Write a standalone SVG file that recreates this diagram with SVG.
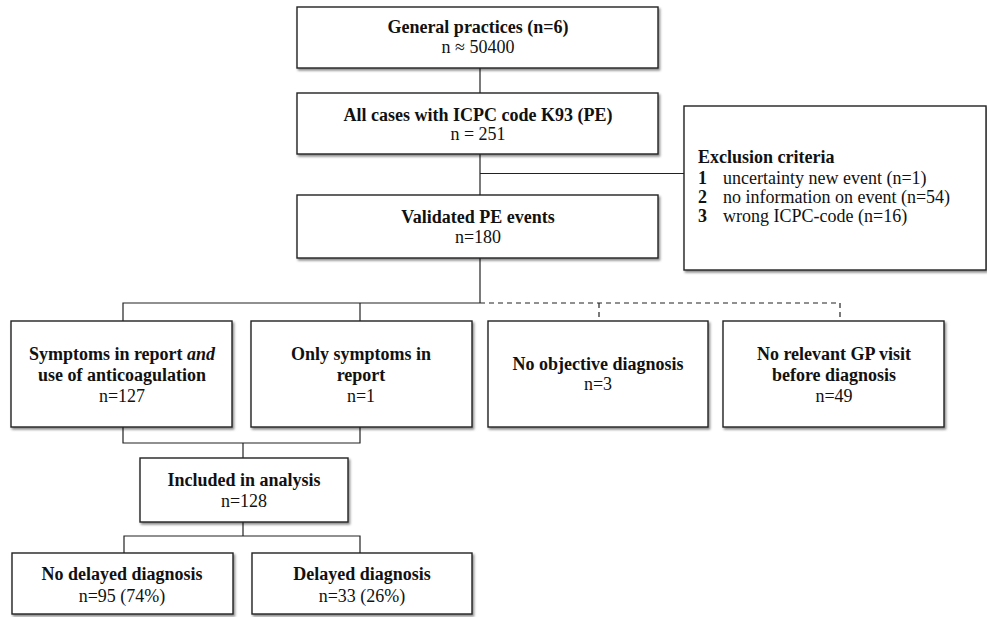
<svg xmlns="http://www.w3.org/2000/svg" width="987" height="617" viewBox="0 0 987 617">
<defs>
<filter id="sh" x="-5%" y="-5%" width="112%" height="120%">
<feDropShadow dx="1.5" dy="2" stdDeviation="1.2" flood-color="#000" flood-opacity="0.45"/>
</filter>
</defs>
<style>
.box{fill:#fff;stroke:#222;stroke-width:1.4;filter:url(#sh)}
.ln{fill:none;stroke:#222;stroke-width:1.2}
.dash{fill:none;stroke:#222;stroke-width:1.2;stroke-dasharray:5,4}
text{font-family:"Liberation Serif","Times New Roman",serif;font-size:18px;fill:#111;text-anchor:middle}
.b{font-weight:bold}
.l{text-anchor:start}
</style>
<rect width="987" height="617" fill="#fff"/>
<g id="connectors">
<line class="ln" x1="480" y1="68" x2="480" y2="93"/>
<line class="ln" x1="480" y1="154" x2="480" y2="195"/>
<line class="ln" x1="480" y1="173.5" x2="684" y2="173.5"/>
<line class="ln" x1="480" y1="258" x2="480" y2="303"/>
<polyline class="ln" points="123,321 123,303 480,303"/>
<line class="ln" x1="360" y1="303" x2="360" y2="321"/>
<polyline class="dash" points="480,303 840,303 840,321"/>
<line class="dash" x1="599" y1="303" x2="599" y2="321"/>
<polyline class="ln" points="123,427 123,443 360,443 360,427"/>
<line class="ln" x1="243" y1="443" x2="243" y2="458"/>
<line class="ln" x1="243" y1="522" x2="243" y2="536"/>
<polyline class="ln" points="124,553 124,536 360,536 360,553"/>
</g>
<g id="n1"><rect class="box" x="297" y="7" width="361" height="61"/>
<text class="b" x="478" y="33">General practices (n=6)</text>
<text x="478" y="53">n ≈ 50400</text></g>
<g id="n2"><rect class="box" x="297" y="93" width="361" height="61"/>
<text class="b" x="478" y="121">All cases with ICPC code K93 (PE)</text>
<text x="478" y="140">n = 251</text></g>
<g id="n3"><rect class="box" x="297" y="195" width="361" height="63"/>
<text class="b" x="478" y="223">Validated PE events</text>
<text x="478" y="243">n=180</text></g>
<g id="excl"><rect class="box" x="684" y="106" width="302" height="164"/>
<text class="b l" x="698" y="163">Exclusion criteria</text>
<text class="l" x="698" y="184"><tspan font-weight="bold">1</tspan><tspan x="723">uncertainty new event (n=1)</tspan></text>
<text class="l" x="698" y="203"><tspan font-weight="bold">2</tspan><tspan x="723">no information on event (n=54)</tspan></text>
<text class="l" x="698" y="222"><tspan font-weight="bold">3</tspan><tspan x="723">wrong ICPC-code (n=16)</tspan></text></g>
<g id="nA"><rect class="box" x="11" y="321" width="221" height="106"/>
<text class="b" x="122" y="360">Symptoms in report <tspan font-style="italic">and</tspan></text>
<text class="b" x="122" y="381">use of anticoagulation</text>
<text x="122" y="402">n=127</text></g>
<g id="nB"><rect class="box" x="251" y="321" width="221" height="106"/>
<text class="b" x="361" y="360">Only symptoms in</text>
<text class="b" x="361" y="381">report</text>
<text x="361" y="402">n=1</text></g>
<g id="nC"><rect class="box" x="488" y="321" width="220" height="106"/>
<text class="b" x="598" y="370">No objective diagnosis</text>
<text x="598" y="390">n=3</text></g>
<g id="nD"><rect class="box" x="723" y="321" width="221" height="106"/>
<text class="b" x="834" y="360">No relevant GP visit</text>
<text class="b" x="834" y="381">before diagnosis</text>
<text x="834" y="402">n=49</text></g>
<g id="nInc"><rect class="box" x="140" y="458" width="208" height="64"/>
<text class="b" x="244" y="486">Included in analysis</text>
<text x="244" y="507">n=128</text></g>
<g id="nE"><rect class="box" x="12" y="553" width="221" height="61"/>
<text class="b" x="122" y="580">No delayed diagnosis</text>
<text x="122" y="602">n=95 (74%)</text></g>
<g id="nF"><rect class="box" x="252" y="553" width="220" height="61"/>
<text class="b" x="362" y="580">Delayed diagnosis</text>
<text x="362" y="602">n=33 (26%)</text></g>
</svg>
